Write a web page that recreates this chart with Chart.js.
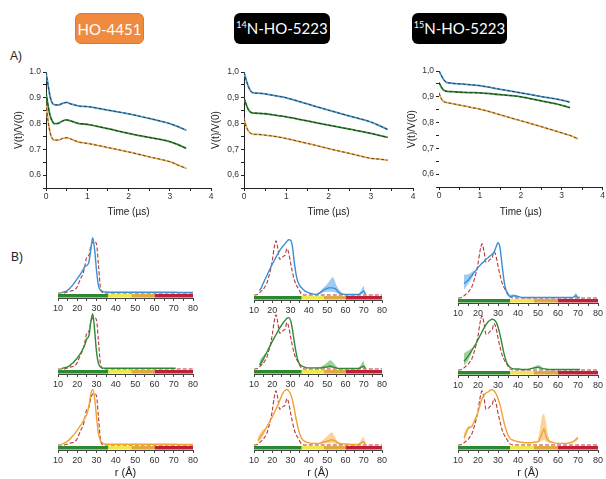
<!DOCTYPE html>
<html>
<head>
<meta charset="utf-8">
<script src="https://cdn.jsdelivr.net/npm/chart.js@4.4.0/dist/chart.umd.min.js"></script>
<style>
  html, body { margin: 0; padding: 0; background: #fff; }
  #fig { position: relative; width: 606px; height: 479px; overflow: hidden; font-family: 'Liberation Sans', Arial, sans-serif; }
  #fig canvas { position: absolute; }
  .tag { position: absolute; top: 13px; height: 31px; line-height: 31px; border-radius: 6px; color: #fff; text-align: center; font-family: Lato, 'Liberation Sans', sans-serif; font-size: 15px; box-sizing: border-box; }
  .tag sup { font-size: 9px; vertical-align: 6px; line-height: 0; }
  .lbl { position: absolute; font-size: 12px; color: #222; }
</style>
</head>
<body>
<div id="fig">
  <div class="tag" style="left:75px;width:69px;background:#ef8a3e;border:1px solid #d97a30">HO-4451</div>
  <div class="tag" style="left:234px;width:96px;background:#000"><sup>14</sup>N-HO-5223</div>
  <div class="tag" style="left:412px;width:95px;background:#000"><sup>15</sup>N-HO-5223</div>
  <div class="lbl" style="left:10px;top:49px">A)</div>
  <div class="lbl" style="left:11px;top:250px">B)</div>
</div>
<script>
// Réglages globaux
Chart.defaults.font.family = "'Liberation Sans', Arial, sans-serif";
Chart.defaults.color = '#333';

// A) traces DEER, temps en µs
const timeUs = [0, 0.05, 0.1, 0.15, 0.2, 0.3, 0.4, 0.5, 0.6, 0.8, 1.0, 1.5, 2.0, 2.5, 3.0, 3.2, 3.4];

const hoBlueV   = [1.0, 0.95, 0.905, 0.88, 0.873, 0.872, 0.878, 0.882, 0.876, 0.868, 0.866, 0.852, 0.838, 0.82, 0.80, 0.788, 0.774];
const hoGreenV  = [0.92, 0.87, 0.83, 0.81, 0.80, 0.801, 0.81, 0.814, 0.81, 0.80, 0.797, 0.78, 0.762, 0.746, 0.73, 0.718, 0.704];
const hoOrangeV = [0.88, 0.81, 0.765, 0.742, 0.736, 0.736, 0.742, 0.745, 0.74, 0.728, 0.723, 0.707, 0.69, 0.671, 0.652, 0.639, 0.626];

const n14BlueV   = [1.0, 0.97, 0.945, 0.928, 0.92, 0.918, 0.917, 0.915, 0.912, 0.906, 0.9, 0.876, 0.852, 0.829, 0.806, 0.792, 0.777];
const n14GreenV  = [0.9, 0.875, 0.855, 0.845, 0.841, 0.84, 0.839, 0.838, 0.836, 0.831, 0.826, 0.81, 0.794, 0.778, 0.762, 0.754, 0.746];
const n14OrangeV = [0.82, 0.79, 0.772, 0.763, 0.759, 0.758, 0.757, 0.755, 0.753, 0.748, 0.742, 0.723, 0.703, 0.684, 0.665, 0.662, 0.658];

const n15BlueV   = [1.0, 0.985, 0.97, 0.96, 0.955, 0.953, 0.951, 0.95, 0.949, 0.946, 0.943, 0.929, 0.915, 0.901, 0.887, 0.879, null];
const n15GreenV  = [0.955, 0.94, 0.928, 0.923, 0.921, 0.92, 0.919, 0.918, 0.917, 0.916, 0.915, 0.908, 0.9, 0.884, 0.867, 0.858, null];
const n15OrangeV = [0.915, 0.895, 0.883, 0.879, 0.877, 0.874, 0.871, 0.868, 0.865, 0.858, 0.852, 0.83, 0.807, 0.784, 0.76, 0.75, 0.737];

// B) distributions de distance, r en Å
const distR = [10, 12, 13, 14, 15, 16, 17, 18, 19, 20,
               21, 22, 23, 24, 25, 26, 27, 28, 29, 30,
               31, 32, 33, 34, 35, 36, 38, 40, 42, 44,
               46, 48, 50, 51, 52, 53, 54, 55, 56, 58,
               60, 64, 67, 68, 69, 70, 71, 74, 80];

const barEdges = [10, 36, 48, 60, 80];
const barColors = ['#2b8a2e', '#f1e64a', '#dfa83c', '#c11f36'];

// simulations (pointillés)
const simHO = [0, 0, 0, 0.01, 0.02, 0.03, 0.04, 0.05, 0.07, 0.12,
               0.2, 0.28, 0.35, 0.5, 0.66, 0.68, 0.85, 0.92, 0.93, 0.88,
               0.5, 0.1, 0.01, 0, 0, 0, 0, 0, 0, 0,
               0, 0, 0, 0, 0, 0, 0, 0, 0, 0,
               0, 0, 0, 0, 0, 0, 0, 0, 0];
const simN = [0, 0.01, 0.04, 0.07, 0.1, 0.15, 0.21, 0.32, 0.45, 0.62,
              0.85, 0.98, 0.85, 0.65, 0.66, 0.7, 0.72, 0.84, 0.76, 0.58,
              0.42, 0.28, 0.19, 0.13, 0.07, 0.02, 0, 0, 0, 0,
              0, 0, 0, 0, 0, 0, 0, 0, 0, 0,
              0, 0, 0, 0, 0, 0, 0, 0, 0];

// HO-4451
const hoBlueP = [null, 0.01, 0.02, 0.03, 0.05, 0.08, 0.12, 0.16, 0.21, 0.26,
                 0.31, 0.36, 0.42, 0.48, 0.5, 0.56, 0.78, 1.0, 0.78, 0.4,
                 0.13, 0.05, 0.03, 0.02, 0.02, 0.015, 0.015, 0.015, 0.015, 0.015,
                 0.015, 0.015, 0.015, 0.015, 0.015, 0.015, 0.015, 0.015, 0.015, 0.015,
                 0.015, 0.015, 0.015, 0.015, 0.015, 0.015, 0.015, 0.01, 0.01];
const hoGreenP = [null, 0.01, 0.02, 0.03, 0.04, 0.06, 0.09, 0.12, 0.16, 0.2,
                  0.25, 0.3, 0.37, 0.45, 0.55, 0.6, 0.85, 1.0, 0.7, 0.3,
                  0.1, 0.04, 0.02, 0.015, 0.015, 0.015, 0.015, 0.015, 0.015, 0.015,
                  0.015, 0.015, 0.015, 0.015, 0.015, 0.015, 0.015, 0.015, 0.015, 0.015,
                  0.015, 0.015, 0.015, 0.015, 0.015, 0.015, 0.015, null, null];
const hoOrangeP = [null, 0.02, 0.03, 0.05, 0.07, 0.1, 0.14, 0.18, 0.22, 0.27,
                   0.32, 0.37, 0.43, 0.5, 0.56, 0.7, 0.92, 1.0, 0.85, 0.5,
                   0.2, 0.08, 0.04, 0.02, 0.015, 0.015, 0.015, 0.015, 0.015, 0.015,
                   0.015, 0.015, 0.015, 0.015, 0.015, 0.015, 0.015, 0.015, 0.015, 0.015,
                   0.015, 0.015, 0.015, 0.015, 0.015, 0.015, 0.015, 0.01, 0.01];

// 14N-HO-5223
const n14BlueP = [null, null, 0.08, 0.13, 0.21, 0.28, 0.35, 0.42, 0.49, 0.56,
                  0.62, 0.68, 0.74, 0.8, 0.85, 0.89, 0.93, 0.97, 1.0, 0.99,
                  0.88, 0.6, 0.38, 0.24, 0.17, 0.13, 0.07, 0.04, 0.02, 0.01,
                  0.04, 0.09, 0.12, 0.13, 0.13, 0.13, 0.12, 0.1, 0.06, 0.02,
                  0.01, 0.01, 0.01, 0.02, 0.05, 0.07, 0.01, null, null];
const n14BlueHi = [null, null, null, null, null, null, null, null, null, null,
                   null, null, null, null, null, null, null, null, null, null,
                   null, null, null, null, null, null, null, null, null, 0.02,
                   0.06, 0.13, 0.2, 0.24, 0.29, 0.33, 0.27, 0.18, 0.12, 0.04,
                   0.01, null, 0.01, 0.05, 0.12, 0.17, 0.01, null, null];
const n14BlueLo = [null, null, null, null, null, null, null, null, null, null,
                   null, null, null, null, null, null, null, null, null, null,
                   null, null, null, null, null, null, null, null, null, 0,
                   0.02, 0.05, 0.06, 0.06, 0.06, 0.06, 0.05, 0.04, 0.02, 0.01,
                   0, null, 0, 0.01, 0.02, 0.03, 0, null, null];

const n14GreenP = [null, null, 0.07, 0.12, 0.18, 0.24, 0.3, 0.37, 0.43, 0.5,
                   0.56, 0.62, 0.68, 0.74, 0.79, 0.84, 0.88, 0.92, 0.93, 0.88,
                   0.72, 0.5, 0.3, 0.16, 0.09, 0.06, 0.03, 0.02, 0.02, 0.02,
                   0.02, 0.03, 0.04, 0.05, 0.05, 0.04, 0.03, 0.02, 0.01, 0.01,
                   0.01, 0.01, 0.01, 0.02, 0.04, 0.05, 0.01, null, null];
const n14GreenHi = [null, null, 0.15, 0.2, 0.24, 0.28, 0.31, null, null, null,
                    null, null, null, null, null, null, null, null, null, null,
                    null, null, null, null, null, null, null, null, null, 0.02,
                    0.03, 0.07, 0.12, 0.15, 0.16, 0.13, 0.09, 0.05, 0.02, 0.01,
                    0.01, null, 0.01, 0.05, 0.12, 0.15, 0.01, null, null];
const n14GreenLo = [null, null, 0.03, 0.06, 0.12, 0.2, 0.29, null, null, null,
                    null, null, null, null, null, null, null, null, null, null,
                    null, null, null, null, null, null, null, null, null, 0.01,
                    0.01, 0.01, 0.02, 0.02, 0.02, 0.02, 0.02, 0.01, 0.01, 0,
                    0, null, 0, 0.01, 0.02, 0.02, 0, null, null];

const n14OrangeP = [null, 0.08, 0.12, 0.17, 0.22, 0.27, 0.33, 0.39, 0.45, 0.51,
                    0.58, 0.65, 0.72, 0.8, 0.88, 0.95, 0.99, 1.0, 0.98, 0.92,
                    0.82, 0.66, 0.48, 0.32, 0.2, 0.12, 0.06, 0.04, 0.03, 0.03,
                    0.03, 0.05, 0.07, 0.08, 0.09, 0.09, 0.08, 0.06, 0.04, 0.02,
                    0.02, 0.01, 0.01, 0.03, 0.05, 0.06, 0.01, null, null];
const n14OrangeHi = [null, 0.15, 0.2, 0.25, 0.28, 0.3, 0.34, null, null, null,
                     null, null, null, null, null, null, null, null, null, null,
                     null, null, null, null, null, null, null, null, null, 0.03,
                     0.04, 0.1, 0.16, 0.19, 0.23, 0.22, 0.16, 0.1, 0.06, 0.03,
                     0.02, null, 0.02, 0.06, 0.12, 0.16, 0.01, null, null];
const n14OrangeLo = [null, 0.03, 0.06, 0.1, 0.16, 0.24, 0.32, null, null, null,
                     null, null, null, null, null, null, null, null, null, null,
                     null, null, null, null, null, null, null, null, null, 0.02,
                     0.02, 0.03, 0.03, 0.03, 0.03, 0.03, 0.03, 0.02, 0.02, 0.01,
                     0.01, null, 0, 0.01, 0.02, 0.02, 0, null, null];

// 15N-HO-5223
const n15BlueP = [null, null, 0.26, 0.29, 0.32, 0.37, 0.41, 0.46, 0.5, 0.55,
                  0.59, 0.63, 0.66, 0.7, 0.73, 0.76, 0.79, 0.83, 0.92, 1.0,
                  0.91, 0.61, 0.32, 0.14, 0.06, 0.03, 0.04, 0.03, 0.01, 0.01,
                  0.01, 0.01, 0.01, 0.01, 0.01, 0.01, 0.01, 0.01, 0.01, 0.01,
                  0.01, 0.01, 0.01, 0.02, 0.04, 0.01, 0.01, null, null];
const n15BlueHi = [null, null, 0.42, 0.42, 0.43, 0.45, 0.47, 0.5, null, null,
                   null, null, null, null, null, null, null, null, null, null,
                   null, null, null, 0.18, 0.1, 0.06, 0.07, 0.04, null, null,
                   null, null, null, null, null, null, null, null, null, null,
                   null, null, null, 0.05, 0.1, 0.02, null, null, null];
const n15BlueLo = [null, null, 0.15, 0.2, 0.25, 0.3, 0.36, 0.43, null, null,
                   null, null, null, null, null, null, null, null, null, null,
                   null, null, null, 0.12, 0.04, 0.01, 0.02, 0.01, null, null,
                   null, null, null, null, null, null, null, null, null, null,
                   null, null, null, 0.01, 0.02, 0.01, null, null, null];

const n15GreenP = [null, null, 0.16, 0.2, 0.25, 0.3, 0.36, 0.42, 0.48, 0.55,
                   0.62, 0.69, 0.76, 0.82, 0.87, 0.9, 0.92, 0.91, 0.87, 0.78,
                   0.64, 0.47, 0.3, 0.17, 0.09, 0.05, 0.02, 0.02, 0.01, 0.01,
                   0.02, 0.04, 0.05, 0.04, 0.03, 0.02, 0.02, 0.01, 0.01, 0.01,
                   0.01, 0.01, 0.01, 0.01, 0.01, 0.01, 0.01, null, null];
const n15GreenHi = [null, null, 0.3, 0.33, 0.35, 0.37, 0.4, null, null, null,
                    null, null, null, null, null, null, null, null, null, null,
                    null, null, null, null, null, null, null, null, null, null,
                    0.02, 0.06, 0.09, 0.08, 0.05, 0.02, null, null, null, null,
                    null, null, null, null, null, null, null, null, null];
const n15GreenLo = [null, null, 0.08, 0.12, 0.17, 0.24, 0.33, null, null, null,
                    null, null, null, null, null, null, null, null, null, null,
                    null, null, null, null, null, null, null, null, null, null,
                    0.02, 0.02, 0.03, 0.02, 0.02, 0.02, null, null, null, null,
                    null, null, null, null, null, null, null, null, null];

const n15OrangeP = [null, null, 0.13, 0.22, 0.3, 0.32, 0.34, 0.42, 0.5, 0.59,
                    0.72, 0.84, 0.9, 0.94, 0.96, 0.99, 1.0, 0.98, 0.93, 0.84,
                    0.73, 0.57, 0.41, 0.28, 0.18, 0.12, 0.08, 0.06, 0.05, 0.04,
                    0.04, 0.05, 0.06, 0.12, 0.21, 0.29, 0.16, 0.09, 0.06, 0.04,
                    0.03, 0.03, 0.05, 0.07, 0.1, 0.13, null, null, null];
const n15OrangeHi = [null, null, 0.2, 0.28, 0.34, 0.36, null, null, null, null,
                     null, null, null, null, null, null, null, null, null, null,
                     null, null, null, null, null, null, null, null, null, null,
                     null, null, 0.1, 0.3, 0.53, 0.57, 0.41, 0.18, 0.08, 0.05,
                     null, null, 0.06, 0.09, 0.13, 0.17, null, null, null];
const n15OrangeLo = [null, null, 0.06, 0.16, 0.26, 0.3, null, null, null, null,
                     null, null, null, null, null, null, null, null, null, null,
                     null, null, null, null, null, null, null, null, null, null,
                     null, null, 0.04, 0.06, 0.08, 0.1, 0.06, 0.05, 0.04, 0.03,
                     null, null, 0.04, 0.05, 0.07, 0.1, null, null, null];

// couleurs
const traceColors = { blue: '#4d9dd0', green: '#3a8c3a', orange: '#f3b45a' };
const distColors = {
    blue:   { line: '#3b8fd6', band: 'rgba(92,170,236,0.6)' },
    green:  { line: '#2e8a33', band: 'rgba(84,172,84,0.55)' },
    orange: { line: '#f0a232', band: 'rgba(246,182,92,0.6)' }
};
const simColor = '#b5363d';

const fig = document.getElementById('fig');
const pts = (xs, ys) => xs.map((x, i) => ({ x: x, y: ys[i] }));

function addCanvas(x, y, w, h) {
    const c = document.createElement('canvas');
    c.width = w; c.height = h;
    c.style.left = x + 'px'; c.style.top = y + 'px';
    fig.appendChild(c);
    return c.getContext('2d');
}

const baseOpts = {
    animation: false, responsive: false, events: [],
    plugins: { legend: { display: false }, tooltip: { enabled: false } }
};

// A) courbe de décroissance
function decayChart(box, area, traces, comma, yLine) {
    const [x, y, w, h] = box;
    const [L, T, R, B] = area;
    const ctx = addCanvas(x, y, w, h);
    const datasets = [];
    traces.forEach(tr => {
        datasets.push({ data: pts(timeUs, tr.v), borderColor: tr.c, borderWidth: 1.8, pointRadius: 0, cubicInterpolationMode: 'monotone', order: 2 });
        datasets.push({ data: pts(timeUs, tr.v), borderColor: '#111', borderWidth: 0.7, borderDash: [3, 2], pointRadius: 0, cubicInterpolationMode: 'monotone', order: 1 });
    });
    new Chart(ctx, {
        type: 'line',
        data: { datasets: datasets },
        options: Object.assign({}, baseOpts, {
            layout: { padding: { top: T - y, right: x + w - R, left: 0, bottom: 0 } },
            scales: {
                x: {
                    type: 'linear', min: 0, max: 4,
                    afterFit: s => { s.height = y + h - B; },
                    ticks: { stepSize: 0.5, autoSkip: false, maxRotation: 0, padding: 1, font: { size: 8.5 },
                             callback: v => Number.isInteger(v) ? String(v) : '' },
                    grid: { drawOnChartArea: false, tickLength: 3, color: '#222' },
                    border: { color: '#222' },
                    title: { display: true, text: 'Time (µs)', color: '#222', font: { size: 10 }, padding: { top: 0, bottom: 0 } }
                },
                y: {
                    min: 0.55, max: 1.0,
                    afterFit: s => { s.width = L - x; },
                    ticks: { stepSize: 0.05, autoSkip: false, padding: 2, font: { size: 8.5 },
                             callback: v => Math.abs(v * 10 - Math.round(v * 10)) < 1e-6
                                 ? (comma ? v.toFixed(1).replace('.', ',') : v.toFixed(1)) : '' },
                    grid: { drawOnChartArea: false, tickLength: 3, color: '#222' },
                    border: { display: yLine, color: '#222' },
                    title: { display: true, text: 'V(t)/V(0)', color: '#222', font: { size: 10 }, padding: { top: 8, bottom: 0 } }
                }
            }
        })
    });
}

// B) distribution de distances
function distChart(area, solid, hi, lo, sim, col, withTitle) {
    const [L, R, B] = area;
    const T = B - 63;
    const xh = withTitle ? 30 : 16;
    const x = L - 10, y = T - 3, w = R - L + 20, h = B - y + xh;
    const ctx = addCanvas(x, y, w, h);
    const datasets = [
        { data: pts(distR, solid), borderColor: col.line, borderWidth: 1.4, pointRadius: 0, cubicInterpolationMode: 'monotone', order: 0 },
        { data: pts(distR, sim), borderColor: simColor, borderWidth: 1.1, borderDash: [4, 2], pointRadius: 0, cubicInterpolationMode: 'monotone', order: 1 }
    ];
    if (hi) {
        datasets.push({ data: pts(distR, hi), borderWidth: 0, borderColor: 'rgba(0,0,0,0)', pointRadius: 0, fill: false, order: 2 });
        datasets.push({ data: pts(distR, lo), borderWidth: 0, borderColor: 'rgba(0,0,0,0)', pointRadius: 0, fill: '-1', backgroundColor: col.band, order: 2 });
    }
    barColors.forEach((c, i) => {
        datasets.push({ data: [{ x: barEdges[i], y: -0.05 }, { x: barEdges[i + 1], y: -0.05 }],
                        borderColor: c, borderWidth: 3.5, borderCapStyle: 'butt', pointRadius: 0, order: 3 });
    });
    new Chart(ctx, {
        type: 'line',
        data: { datasets: datasets },
        options: Object.assign({}, baseOpts, {
            layout: { padding: { top: 3, left: 10, right: 10, bottom: 0 } },
            scales: {
                x: {
                    type: 'linear', min: 10, max: 80,
                    afterFit: s => { s.height = xh; },
                    ticks: { stepSize: 5, autoSkip: false, maxRotation: 0, padding: 2, font: { size: 9 },
                             callback: v => v % 10 === 0 ? String(v) : '' },
                    grid: { drawOnChartArea: false, tickLength: 3, color: '#444' },
                    border: { color: '#444' },
                    title: { display: withTitle, text: 'r (Å)', color: '#222', font: { size: 11 }, padding: { top: 1, bottom: 0 } }
                },
                y: { display: false, min: -0.09, max: 1.05 }
            }
        })
    });
}

// Panneaux A
decayChart([5, 60, 212, 158], [46, 72, 211, 188],
    [{ v: hoBlueV, c: traceColors.blue }, { v: hoGreenV, c: traceColors.green }, { v: hoOrangeV, c: traceColors.orange }], false, true);
decayChart([202, 60, 216, 158], [244, 72, 413, 188],
    [{ v: n14BlueV, c: traceColors.blue }, { v: n14GreenV, c: traceColors.green }, { v: n14OrangeV, c: traceColors.orange }], true, true);
decayChart([398, 60, 208, 158], [439, 71, 605, 187],
    [{ v: n15BlueV, c: traceColors.blue }, { v: n15GreenV, c: traceColors.green }, { v: n15OrangeV, c: traceColors.orange }], true, false);

// Panneaux B
distChart([58, 193, 298], hoBlueP, null, null, simHO, distColors.blue, false);
distChart([58, 193, 374], hoGreenP, null, null, simHO, distColors.green, false);
distChart([58, 193, 450], hoOrangeP, null, null, simHO, distColors.orange, true);

distChart([254, 382, 300], n14BlueP, n14BlueHi, n14BlueLo, simN, distColors.blue, false);
distChart([254, 382, 374], n14GreenP, n14GreenHi, n14GreenLo, simN, distColors.green, false);
distChart([254, 382, 450], n14OrangeP, n14OrangeHi, n14OrangeLo, simN, distColors.orange, true);

distChart([458, 598, 303], n15BlueP, n15BlueHi, n15BlueLo, simN, distColors.blue, false);
distChart([458, 598, 375], n15GreenP, n15GreenHi, n15GreenLo, simN, distColors.green, false);
distChart([458, 598, 450], n15OrangeP, n15OrangeHi, n15OrangeLo, simN, distColors.orange, true);
</script>
</body>
</html>
